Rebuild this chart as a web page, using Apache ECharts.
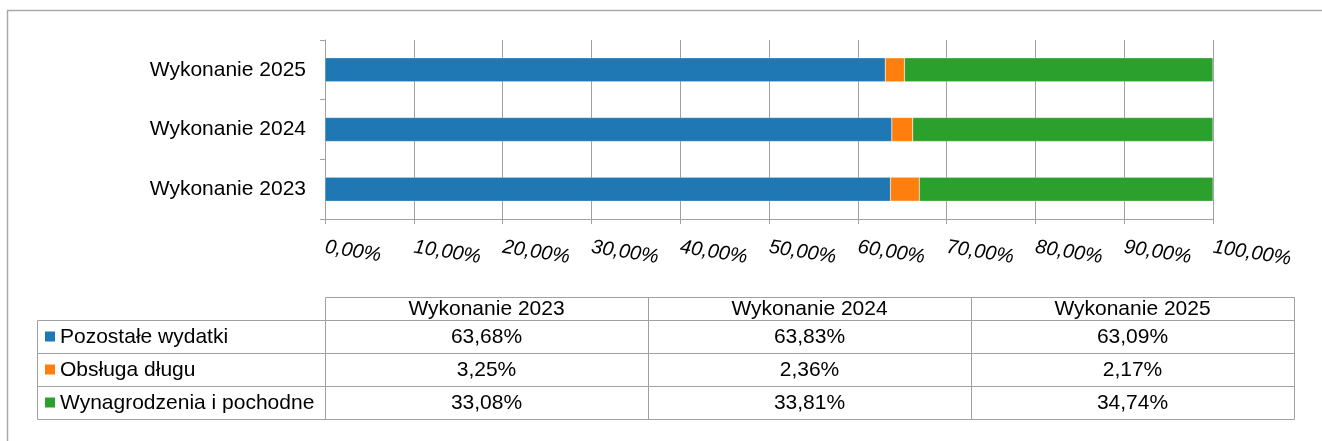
<!DOCTYPE html>
<html>
<head>
<meta charset="utf-8">
<title>Struktura wydatków</title>
<script src="https://cdn.jsdelivr.net/npm/echarts@6/dist/echarts.min.js"></script>
<style>
  html, body { margin: 0; padding: 0; background: #fff; }
  #chart { width: 1322px; height: 441px; }
</style>
</head>
<body>
<div id="chart"></div>
<script>
// dane
var categories = ["Wykonanie 2023", "Wykonanie 2024", "Wykonanie 2025"];
var seriesNames = ["Pozostałe wydatki", "Obsługa długu", "Wynagrodzenia i pochodne"];
var pozostaleWydatki = [63.68, 63.83, 63.09];
var obslugaDlugu = [3.25, 2.36, 2.17];
var wynagrodzenia = [33.08, 33.81, 34.74];
var colors = ["#1f77b4", "#ff7f0e", "#2ca02c"];

var values = [pozostaleWydatki, obslugaDlugu, wynagrodzenia];
var font = "'Liberation Sans', Arial, sans-serif";
var gridColor = "#a0a0a0";

function pct(v) {
  return v.toFixed(2).replace(".", ",") + "%";
}

var myChart = echarts.init(document.getElementById("chart"));

// tabela danych pod wykresem
var tableLeft = 37;
var colX = [325, 648, 971, 1294];
var headerTop = 297;
var rowTops = [320, 353, 386, 419];
var graphic = [];

// ramka zewnętrzna
graphic.push({
  type: "rect",
  shape: { x: 7.5, y: 10.5, width: 1400, height: 500 },
  style: { fill: "none", stroke: "#aaaaaa", lineWidth: 1.5 },
  silent: true
});

for (var c = 0; c < categories.length; c++) {
  graphic.push({
    type: "rect",
    shape: { x: colX[c] + 0.5, y: headerTop + 0.5, width: colX[c + 1] - colX[c], height: rowTops[0] - headerTop },
    style: { fill: "none", stroke: gridColor, lineWidth: 1 }
  });
  graphic.push({
    type: "text",
    x: (colX[c] + colX[c + 1]) / 2,
    y: (headerTop + rowTops[0]) / 2 + 1,
    style: { text: categories[c], fontSize: 21, fontFamily: font, fill: "#000", align: "center", verticalAlign: "middle" }
  });
}

for (var r = 0; r < seriesNames.length; r++) {
  var rowTop = rowTops[r], rowBottom = rowTops[r + 1];
  var midY = (rowTop + rowBottom) / 2 + 1;
  graphic.push({
    type: "rect",
    shape: { x: tableLeft + 0.5, y: rowTop + 0.5, width: colX[0] - tableLeft, height: rowBottom - rowTop },
    style: { fill: "none", stroke: gridColor, lineWidth: 1 }
  });
  graphic.push({
    type: "rect",
    shape: { x: 45, y: midY - 6, width: 10, height: 10 },
    style: { fill: colors[r] }
  });
  graphic.push({
    type: "text",
    x: 60,
    y: midY,
    style: { text: seriesNames[r], fontSize: 21, fontFamily: font, fill: "#000", align: "left", verticalAlign: "middle" }
  });
  for (var c2 = 0; c2 < categories.length; c2++) {
    graphic.push({
      type: "rect",
      shape: { x: colX[c2] + 0.5, y: rowTop + 0.5, width: colX[c2 + 1] - colX[c2], height: rowBottom - rowTop },
      style: { fill: "none", stroke: gridColor, lineWidth: 1 }
    });
    graphic.push({
      type: "text",
      x: (colX[c2] + colX[c2 + 1]) / 2,
      y: midY,
      style: { text: pct(values[r][c2]), fontSize: 21, fontFamily: font, fill: "#000", align: "center", verticalAlign: "middle" }
    });
  }
}

var series = [];
for (var i = 0; i < seriesNames.length; i++) {
  series.push({
    name: seriesNames[i],
    type: "bar",
    stack: "total",
    barWidth: 24,
    itemStyle: {
      color: colors[i],
      borderColor: "rgba(255,255,255,0.45)",
      borderWidth: 0.5
    },
    data: values[i]
  });
}

var option = {
  animation: false,
  backgroundColor: "#fff",
  textStyle: { fontFamily: font },
  grid: {
    left: 325,
    right: 109,
    top: 40,
    bottom: 222,
    containLabel: false
  },
  xAxis: {
    type: "value",
    min: 0,
    max: 100,
    interval: 10,
    axisLine: { show: true, lineStyle: { color: gridColor, width: 1 } },
    axisTick: { show: true, length: 5, lineStyle: { color: gridColor } },
    splitLine: { show: true, lineStyle: { color: gridColor, width: 1 } },
    axisLabel: {
      rotate: -9,
      margin: 28,
      fontSize: 20,
      fontStyle: "italic",
      fontFamily: font,
      color: "#000",
      formatter: function (v) { return pct(v); }
    }
  },
  yAxis: {
    type: "category",
    data: categories,
    axisLine: { show: true, lineStyle: { color: gridColor, width: 1 } },
    axisTick: { show: true, length: 5, alignWithLabel: false, lineStyle: { color: gridColor } },
    splitLine: { show: false },
    axisLabel: {
      margin: 19,
      fontSize: 21,
      fontFamily: font,
      color: "#000"
    }
  },
  graphic: graphic,
  series: series
};

myChart.setOption(option, true);
</script>
</body>
</html>
